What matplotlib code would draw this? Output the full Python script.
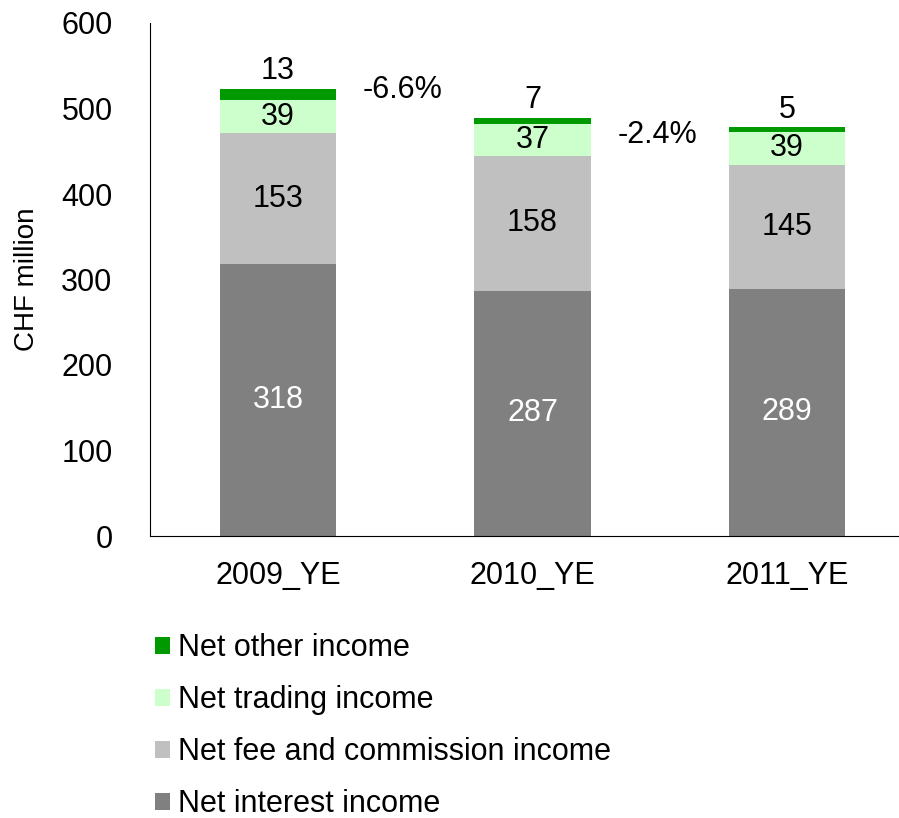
import numpy as np
import matplotlib.pyplot as plt

plt.rcParams['font.family'] = ['Liberation Sans', 'DejaVu Sans']

# stacked income components, CHF million
years = ["2009_YE", "2010_YE", "2011_YE"]
interest = [318, 287, 289]
fees = [153, 158, 145]
trading = [39, 37, 39]
other = [13, 7, 5]

changes = ["-6.6%", "-2.4%"]
change_y = [522, 469]

series = [
    ("Net interest income", interest, "#808080", "white"),
    ("Net fee and commission income", fees, "#C0C0C0", "black"),
    ("Net trading income", trading, "#CCFFCC", "black"),
    ("Net other income", other, "#009900", None),
]

FS = 22

fig = plt.figure(figsize=(8.99, 8.18), dpi=100)
ax = fig.add_axes([150 / 899, 282 / 818, 749 / 899, 513 / 818])

x = np.arange(len(years))
width = 0.456
bottom = np.zeros(len(years))
handles = []
for name, vals, color, txt in series:
    vals = np.array(vals)
    b = ax.bar(x, vals, width, bottom=bottom, color=color, label=name)
    handles.append(b)
    for xi, v, b0 in zip(x, vals, bottom):
        if txt is None:
            ax.annotate(str(v), (xi, b0 + v), xytext=(0, 2),
                        textcoords="offset points", ha="center", va="bottom",
                        fontsize=FS, color="black")
        else:
            ax.text(xi, b0 + v / 2, str(v), ha="center", va="center",
                    fontsize=FS, color=txt)
    bottom = bottom + vals

for i, (lab, yv) in enumerate(zip(changes, change_y)):
    ax.text(i + 0.49, yv, lab, ha="center", va="center", fontsize=FS)

ax.set_xlim(-0.503, 2.44)
ax.set_ylim(0, 600)
ax.set_yticks(np.arange(0, 601, 100))
ax.set_xticks(x)
ax.set_xticklabels(years)
ax.tick_params(axis="both", length=0, labelsize=FS)
ax.tick_params(axis="y", pad=27)
ax.tick_params(axis="x", pad=18)
ax.spines["top"].set_visible(False)
ax.spines["right"].set_visible(False)
ax.set_ylabel("CHF million", fontsize=20)
ax.yaxis.set_label_coords(-110 / 749, 0.5)

fig.legend(handles=handles[::-1], labels=[s[0] for s in series][::-1],
           loc="upper left", bbox_to_anchor=(0.159, 0.241), frameon=False,
           fontsize=FS, handlelength=0.5, handleheight=0.5,
           handletextpad=0.25, labelspacing=0.72, borderaxespad=0)

fig.savefig("out.png", dpi=100)
